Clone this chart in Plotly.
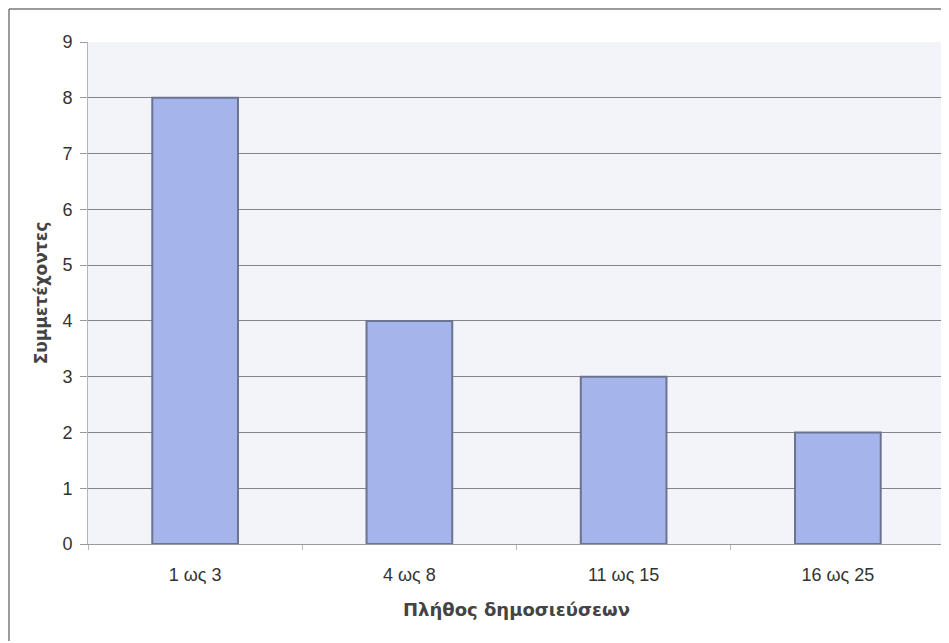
import plotly.graph_objects as go

categories = ["1 ως 3", "4 ως 8", "11 ως 15", "16 ως 25"]
values = [8, 4, 3, 2]
y_ticks = [0, 1, 2, 3, 4, 5, 6, 7, 8, 9]

# page body has an 8px margin, so the figure is sized to fit the window
W, H = 941, 635
L, R, T, B = 80, 4, 34, 99
pw, ph = W - L - R, H - T - B

fig = go.Figure(go.Bar(
    x=categories, y=values, width=0.4,
    marker=dict(color="#a5b5ec", line=dict(color="#6b7390", width=2)),
))

fig.update_layout(
    width=W, height=H,
    margin=dict(l=L, r=R, t=T, b=B),
    paper_bgcolor="white", plot_bgcolor="#f3f4fa",
    font=dict(family="Liberation Sans, Arial, sans-serif", size=18, color="#333333"),
    showlegend=False, bargap=0.6,
    xaxis=dict(
        title=dict(text="<b>Πλήθος δημοσιεύσεων</b>",
                   font=dict(family="DejaVu Sans, sans-serif", size=18, color="#444444"), standoff=19),
        showline=True, linecolor="#9a9a9a", linewidth=1,
        ticks="outside", tickson="boundaries", ticklen=5, tickcolor="#b8b8b8",
        ticklabelstandoff=14,
        showgrid=False, tickfont=dict(size=18, color="#333333"),
    ),
    yaxis=dict(
        title=dict(text="<b>Συμμετέχοντες</b>",
                   font=dict(family="DejaVu Sans, sans-serif", size=17, color="#444444"), standoff=10),
        range=[0, 9], tickvals=y_ticks,
        showline=True, linecolor="#b5b5b5", linewidth=1,
        ticks="outside", ticklen=7, tickcolor="#9a9a9a",
        ticklabelstandoff=4,
        showgrid=True, gridcolor="#858585", gridwidth=1,
        zeroline=False, tickfont=dict(size=18, color="#333333"),
    ),
)

# outer chart border (left and top)
x0 = (1 - L) / pw
y1 = 1 + (T - 1) / ph
fig.add_shape(type="line", xref="paper", yref="paper", x0=x0, x1=x0, y0=-(B - 2) / ph, y1=y1,
              line=dict(color="#7a7a7a", width=1.5))
fig.add_shape(type="line", xref="paper", yref="paper", x0=x0, x1=1 + (R + 2) / pw, y0=y1, y1=y1,
              line=dict(color="#7a7a7a", width=1.5))

fig.write_html("out.html")
